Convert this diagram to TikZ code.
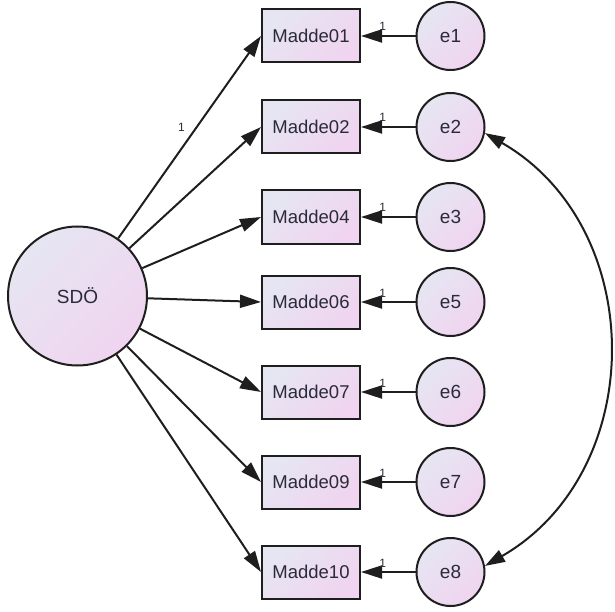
\documentclass[tikz,border=0pt]{standalone}
\usepackage{fontspec}
\setmainfont{Liberation Sans}
\usetikzlibrary{arrows.meta}
\definecolor{cA}{HTML}{E6E6F2}
\definecolor{cB}{HTML}{F0D4F0}
\definecolor{ink}{HTML}{1E1E1E}
\definecolor{txt}{HTML}{2A2A38}
\tikzset{
  shadefill/.style={left color=cA, right color=cB, shading angle=45},
  obs/.style={draw=ink, line width=2pt, shadefill, rectangle, minimum width=98pt, minimum height=53pt, inner sep=0pt, font=\fontsize{18.5}{20}\selectfont, text=txt},
  lat/.style={draw=ink, line width=2pt, shadefill, circle, minimum size=139pt, inner sep=0pt, font=\fontsize{19}{21}\selectfont, text=txt},
  err/.style={draw=ink, line width=2pt, shadefill, circle, minimum size=68pt, inner sep=0pt, font=\fontsize{19}{21}\selectfont, text=txt},
  arr/.style={draw=ink, line width=2pt, -{Triangle[length=21pt, width=13pt]}},
  darr/.style={draw=ink, line width=2pt, {Triangle[length=20pt, width=13pt]}-{Triangle[length=20pt, width=13pt]}},
  lab/.style={font=\fontsize{12}{13}\selectfont, text=txt, inner sep=0pt}
}
\begin{document}
\begin{tikzpicture}[x=1pt, y=-1pt]
\useasboundingbox (0,0) rectangle (615,612);
\node[lat] (SDO) at (77.5,296) {SDÖ};
\node[obs] (m01) at (311,36) {Madde01};
\node[obs] (m02) at (311,127) {Madde02};
\node[obs] (m04) at (311,217) {Madde04};
\node[obs] (m06) at (311,302) {Madde06};
\node[obs] (m07) at (311,392) {Madde07};
\node[obs] (m09) at (311,482) {Madde09};
\node[obs] (m10) at (311,572) {Madde10};
\node[err] (e1) at (450.5,36) {e1};
\node[err] (e2) at (450.5,127) {e2};
\node[err] (e3) at (450.5,217) {e3};
\node[err] (e5) at (450.5,302) {e5};
\node[err] (e6) at (450.5,392) {e6};
\node[err] (e7) at (450.5,482) {e7};
\node[err] (e8) at (450.5,572) {e8};
\draw[arr] (SDO) -- (m01.west) node[lab, pos=0.55, left=11pt] {1};
\foreach \m in {m02,m04,m06,m07,m09,m10} {
  \draw[arr] (SDO) -- (\m.west);
}
\foreach \e/\m in {e1/m01,e2/m02,e3/m04,e5/m06,e6/m07,e7/m09,e8/m10} {
  \draw[arr] (\e) -- (\m) node[lab, pos=0.6, above=4pt] {1};
}
\draw[darr] (e2.-10) to[out=-30, in=30, looseness=1.12] (e8.10);
\end{tikzpicture}
\end{document}
